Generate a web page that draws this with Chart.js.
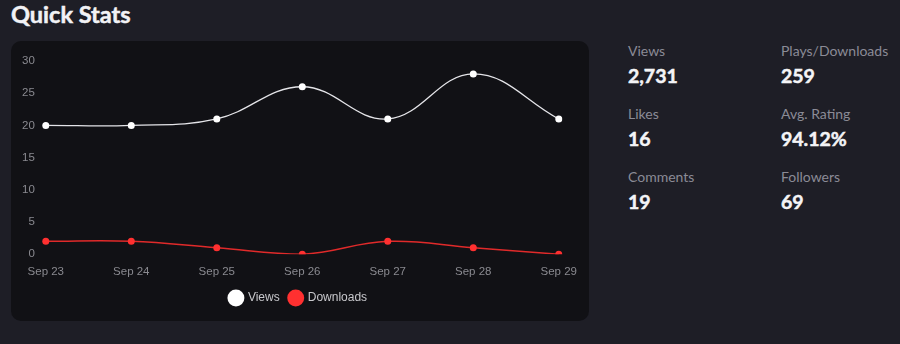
<!DOCTYPE html>
<html>
<head>
<meta charset="utf-8">
<script src="https://cdn.jsdelivr.net/npm/chart.js@4"></script>
<style>
  body { margin: 0; background: #1e1e26; width: 900px; height: 344px; overflow: hidden; font-family: Lato, sans-serif; }
  h2 { position: absolute; left: 11px; top: 0; margin: 0; font: 700 23.5px Lato, sans-serif; color: #f2f2f5; line-height: 28px; -webkit-text-stroke: 0.5px #f2f2f5; }
  .card { position: absolute; left: 11px; top: 41px; width: 578px; height: 280px; background: #111115; border-radius: 10px; }
  .wrap { position: absolute; left: 8px; top: 6px; width: 561px; height: 267px; }
  .stat { position: absolute; }
  .stat .lbl { font: 400 14px Lato, sans-serif; color: #8b8b96; line-height: 18px; margin-top: 1px; }
  .stat .val { font: 700 19.5px Lato, sans-serif; color: #f4f4f6; line-height: 24px; margin-top: 4px; -webkit-text-stroke: 0.5px #f4f4f6; }
</style>
</head>
<body>
<h2>Quick Stats</h2>
<div class="card"><div class="wrap"><canvas id="chart"></canvas></div></div>
<div id="stats"></div>
<script>
"use strict";

const days = ["Sep 23", "Sep 24", "Sep 25", "Sep 26", "Sep 27", "Sep 28", "Sep 29"];
const views = [20, 20, 21, 26, 21, 28, 21];
const downloads = [2, 2, 1, 0, 2, 1, 0];
const statLabels = ["Views", "Plays/Downloads", "Likes", "Avg. Rating", "Comments", "Followers"];
const statValues = ["2,731", "259", "16", "94.12%", "19", "69"];

// stats grid on the right
let statsHtml = "";
statLabels.forEach((label, i) => {
  let left = i % 2 == 0 ? 628 : 781;
  let top = 41 + Math.floor(i / 2) * 63;
  statsHtml += '<div class="stat" style="left:' + left + 'px;top:' + top + 'px">' +
    '<div class="lbl">' + label + '</div><div class="val">' + statValues[i] + '</div></div>';
});
document.getElementById("stats").innerHTML = statsHtml;

const tickFont = { family: "'Liberation Sans', Arial, sans-serif", size: 11.5 };

new Chart(document.getElementById("chart"), {
  type: "line",
  data: {
    labels: days,
    datasets: [{
      label: "Views",
      data: views,
      borderColor: "#e4e4e8",
      backgroundColor: "#ffffff",
      pointBackgroundColor: "#ffffff",
      borderWidth: 1.3,
      pointRadius: 3.5,
      pointBorderWidth: 0,
      tension: 0.4
    }, {
      label: "Downloads",
      data: downloads,
      borderColor: "#e02a2a",
      backgroundColor: "#ff3030",
      pointBackgroundColor: "#ff3030",
      borderWidth: 1.5,
      pointRadius: 3.5,
      pointBorderWidth: 0,
      tension: 0.4
    }]
  },
  options: {
    responsive: true,
    maintainAspectRatio: false,
    animation: false,
    layout: { padding: { left: 0, right: 2, top: 14, bottom: 0 } },
    scales: {
      x: {
        grid: { display: false },
        border: { display: false },
        ticks: { color: "#8a8a90", font: tickFont, padding: 3 }
      },
      y: {
        min: 0,
        max: 30,
        grid: { display: false },
        border: { display: false },
        ticks: { stepSize: 5, color: "#8a8a90", font: tickFont, padding: 3 }
      }
    },
    plugins: {
      legend: {
        position: "bottom",
        labels: {
          usePointStyle: true,
          pointStyle: "circle",
          boxWidth: 14,
          boxHeight: 14,
          padding: 10,
          color: "#c8c8cc",
          font: { family: "'Liberation Sans', Arial, sans-serif", size: 12 }
        }
      },
      tooltip: { enabled: false }
    }
  }
});
</script>
</body>
</html>
